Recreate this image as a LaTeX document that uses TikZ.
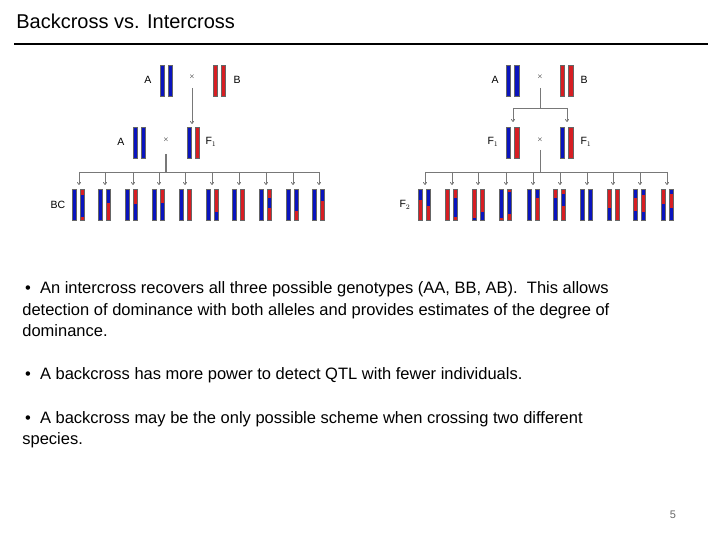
\documentclass[tikz,border=0pt]{standalone}
\usepackage{fontspec}
\setmainfont{Liberation Sans}
\usetikzlibrary{arrows.meta}
\definecolor{cb}{RGB}{10,20,190}
\definecolor{cr}{RGB}{215,30,35}
\definecolor{lk}{RGB}{120,120,120}
\tikzset{every picture/.style={line width=0.75pt}}
\tikzset{link/.style={draw=lk, line width=0.8pt},
  drop/.style={link, -{To[length=3pt,width=4pt]}},
  lbl/.style={inner sep=0pt, font=\fontsize{10.5}{12}\selectfont},
  txt/.style={anchor=base west, inner sep=0pt, font=\fontsize{16.5}{19}\selectfont}}
% chromosome: x, top y, segments from/to/colour (fractions of length)
\newcommand{\chrom}[3]{%
  \foreach \a/\b/\c in #3 \fill[\c] (#1,{#2+31*\a}) rectangle ({#1+4.5},{#2+31*\b});
  \draw[black!60, line width=0.3pt] (#1,#2) rectangle ({#1+4.5},{#2+31});}

\begin{document}
\begin{tikzpicture}[x=1pt,y=1pt,yscale=-1]
\useasboundingbox (0,0) rectangle (720,540);

% Title
\node[anchor=base west, inner sep=0pt, font=\fontsize{20}{24}\selectfont] (title) at (16,29) {Backcross vs. Intercross};
\draw[line width=2.5pt] (14,44) -- (708,44);

%%% Backcross
\chrom{160}{65}{{0/1/cb}} \chrom{168}{65}{{0/1/cb}}
\chrom{213}{65}{{0/1/cr}} \chrom{221}{65}{{0/1/cr}}
\node[lbl] (bA) at (148,80) {A};
\node[lbl] (bB) at (237,80) {B};
\node[lbl, font=\scriptsize] (bx1) at (192,77) {$\times$};
\coordinate (bd1) at (192,88);
\coordinate (bF) at (192,124);
\draw[drop] (bd1) -- (bF);
\chrom{133}{127}{{0/1/cb}} \chrom{141}{127}{{0/1/cb}}
\chrom{187}{127}{{0/1/cb}} \chrom{195}{127}{{0/1/cr}}
\node[lbl] (bA2) at (121,142) {A};
\node[lbl] (bF1) at (211,142) {F$_1$};
\node[lbl, font=\scriptsize] (bx2) at (166,140) {$\times$};
\coordinate (bd2) at (166,154);
\coordinate (bh) at (166,172);
\draw[link, line width=1.5pt] (bd2) -- (bh);
\draw[link] (79,172) -- (319,172);
\foreach \xx in {79,105,133,159,185,212,239,266,293,319}
  \draw[drop] (\xx,172) -- (\xx,185);
\node[lbl] (bBC) at (58,205) {BC};
\foreach \xx/\s in {
  72/{0/0.2/cr,0.2/0.9/cb,0.9/1/cr},
  98/{0/0.45/cb,0.45/1/cr},
  125/{0/0.5/cr,0.5/1/cb},
  152/{0/0.45/cr,0.45/1/cb},
  179/{0/1/cr},
  206/{0/0.75/cr,0.75/1/cb},
  232/{0/1/cr},
  259/{0/0.3/cr,0.3/0.6/cb,0.6/1/cr},
  286/{0/0.7/cb,0.7/1/cr},
  312/{0/0.4/cb,0.4/1/cr}}
  {\chrom{\xx}{189}{{0/1/cb}} \chrom{\xx+8}{189}{\s}}

%%% Intercross
\chrom{506}{65}{{0/1/cb}} \chrom{514.5}{65}{{0/1/cb}}
\chrom{560}{65}{{0/1/cr}} \chrom{568.5}{65}{{0/1/cr}}
\node[lbl] (iA) at (495,80) {A};
\node[lbl] (iB) at (584,80) {B};
\node[lbl, font=\scriptsize] (ix1) at (540,77) {$\times$};
\coordinate (id1) at (540,88);
\coordinate (ih1) at (540,108);
\draw[link] (id1) -- (ih1);
\draw[link] (513,108) -- (567,108);
\draw[drop] (513,108) -- (513,122);
\draw[drop] (567,108) -- (567,122);
\chrom{506}{127}{{0/1/cb}} \chrom{514.5}{127}{{0/1/cr}}
\chrom{560}{127}{{0/1/cb}} \chrom{568.5}{127}{{0/1/cr}}
\node[lbl] (iF1) at (493,142) {F$_1$};
\node[lbl] (iF1b) at (586,142) {F$_1$};
\node[lbl, font=\scriptsize] (ix2) at (540,140) {$\times$};
\coordinate (id2) at (540,150);
\coordinate (ih2) at (540,172);
\draw[link] (id2) -- (ih2);
\draw[link] (425,172) -- (667,172);
\foreach \xx in {425,452,478,506,533,560,587,613,640,667}
  \draw[drop] (\xx,172) -- (\xx,185);
\node[lbl] (iF2) at (405,205) {F$_2$};
\foreach \xx/\s/\t in {
  418/{0/0.35/cb,0.35/1/cr}/{0/0.55/cb,0.55/1/cr},
  445/{0/1/cr}/{0/0.3/cr,0.3/0.9/cb,0.9/1/cr},
  472/{0/0.95/cr,0.95/1/cb}/{0/0.75/cr,0.75/1/cb},
  499/{0/0.95/cb,0.95/1/cr}/{0/0.1/cr,0.1/0.8/cb,0.8/1/cr},
  527/{0/1/cb}/{0/0.3/cb,0.3/1/cr},
  553/{0/0.3/cr,0.3/1/cb}/{0/0.15/cr,0.15/0.55/cb,0.55/1/cr},
  580/{0/1/cb}/{0/1/cb},
  607/{0/0.6/cr,0.6/1/cb}/{0/1/cr},
  633/{0/0.3/cb,0.3/0.7/cr,0.7/1/cb}/{0/0.2/cb,0.2/0.75/cr,0.75/1/cb},
  661/{0/0.5/cr,0.5/1/cb}/{0/0.15/cb,0.15/0.6/cr,0.6/1/cb}}
  {\chrom{\xx}{189}{\s} \chrom{\xx+8}{189}{\t}}

% Text
\node[txt] (t1) at (22,293) {\,\textbullet\ \ An intercross recovers all three possible genotypes (AA, BB, AB).\ \ This allows};
\node[txt] (t2) at (22,315) {detection of dominance with both alleles and provides estimates of the degree of};
\node[txt] (t3) at (22,336) {dominance.};
\node[txt] (t4) at (22,379) {\,\textbullet\ \ A backcross has more power to detect QTL with fewer individuals.};
\node[txt] (t5) at (22,423) {\,\textbullet\ \ A backcross may be the only possible scheme when crossing two different};
\node[txt] (t6) at (22,444) {species.};
\node[lbl, text=black!60, font=\fontsize{11}{13}\selectfont] (pg) at (673,515) {5};
\end{tikzpicture}
\end{document}
